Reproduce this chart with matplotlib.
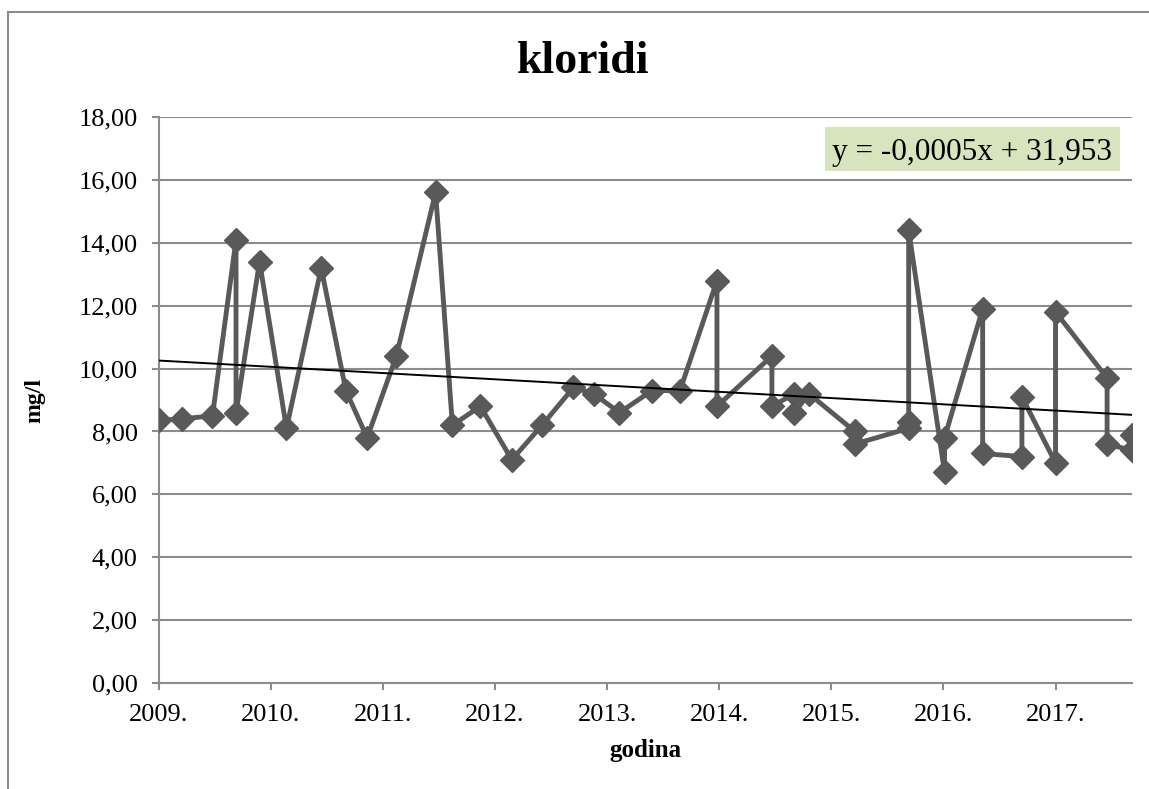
import numpy as np
import matplotlib
matplotlib.use('Agg')
import matplotlib.pyplot as plt
from matplotlib.lines import Line2D
from matplotlib.patches import Rectangle

plt.rcParams['font.family'] = ['Liberation Serif', 'DejaVu Serif']

# Sampling dates (decimal years) and chloride concentration (mg/l)
dates = [2009.00, 2009.21, 2009.48, 2009.69, 2009.69, 2009.90, 2010.14, 2010.45,
         2010.67, 2010.86, 2011.12, 2011.47, 2011.62, 2011.87, 2012.15, 2012.42,
         2012.70, 2012.88, 2013.11, 2013.40, 2013.65, 2013.98, 2013.98, 2014.47,
         2014.47, 2014.67, 2014.67, 2014.80, 2015.21, 2015.21, 2015.69, 2015.69,
         2015.69, 2016.01, 2016.01, 2016.35, 2016.35, 2016.70, 2016.70, 2017.00,
         2017.00, 2017.46, 2017.46, 2017.68, 2017.68]
values = [8.35, 8.4, 8.5, 14.1, 8.6, 13.4, 8.1, 13.2, 9.3, 7.8, 10.4, 15.6, 8.2, 8.8,
          7.1, 8.2, 9.4, 9.2, 8.6, 9.3, 9.3, 12.8, 8.8, 10.4, 8.8, 9.2, 8.6, 9.2,
          8.0, 7.6, 8.1, 8.3, 14.4, 6.7, 7.8, 11.9, 7.3, 7.2, 9.1, 7.0, 11.8, 9.7,
          7.6, 7.4, 7.9]
year_ticks = [2009, 2010, 2011, 2012, 2013, 2014, 2015, 2016, 2017]
trend_label = 'y = -0,0005x + 31,953'

W, H = 1149, 789
x = np.array(dates)
y = np.array(values)

fig = plt.figure(figsize=(W / 100, H / 100), dpi=100)
ax = fig.add_axes([0.1381, 0.1343, 0.8469, 0.7174])

grid_col = '#8c8c8c'
ax.plot(x, y, color='#595959', lw=3.5, marker='D', ms=12, zorder=3)

# linear trendline over the data range
k, b = np.polyfit(x, y, 1)
xt = np.array([x.min(), x.max()])
ax.plot(xt, k * xt + b, color='black', lw=1.4, zorder=4)

ax.set_xlim(2009, 2017.68)
ax.set_ylim(0, 18)
ax.set_yticks(np.arange(0, 19, 2))
ax.set_yticklabels([f'{v:.2f}'.replace('.', ',') for v in np.arange(0, 19, 2)])
ax.set_xticks(year_ticks)
ax.set_xticklabels([f'{t}.' for t in year_ticks])
ax.tick_params(labelsize=19, colors=grid_col, labelcolor='black', length=5, width=1.5)
ax.tick_params(axis='y', pad=10)
ax.tick_params(axis='x', pad=10)
ax.grid(axis='y', color=grid_col, lw=1.5)
ax.set_axisbelow(True)
for s in ['top', 'right']:
    ax.spines[s].set_visible(False)
for s in ['left', 'bottom']:
    ax.spines[s].set_color(grid_col)
    ax.spines[s].set_linewidth(1.5)

fig.text(645 / W, 1 - 757 / H, 'godina', fontsize=18, fontweight='bold',
         ha='center', va='baseline')
fig.text(35 / W, 1 - 400 / H, 'mg/l', fontsize=17, fontweight='bold',
         ha='center', va='center', rotation=90)
fig.text(583 / W, 1 - 73 / H, 'kloridi', fontsize=33, fontweight='bold',
         ha='center', va='baseline')

# trendline equation box
fig.add_artist(Rectangle((825 / W, 1 - 171 / H), 295 / W, 44 / H,
                         transform=fig.transFigure, fc='#d7e4bd', ec='none'))
fig.text(972 / W, 1 - 160 / H, trend_label, fontsize=22.5, ha='center', va='baseline')

# chart frame (partly cut off in the original)
fig.add_artist(Line2D([8 / W, 1.0], [1 - 12 / H, 1 - 12 / H],
                      transform=fig.transFigure, color=grid_col, lw=1.5))
fig.add_artist(Line2D([8 / W, 8 / W], [0, 1 - 12 / H],
                      transform=fig.transFigure, color=grid_col, lw=1.5))

fig.savefig('out.png', dpi=100)
